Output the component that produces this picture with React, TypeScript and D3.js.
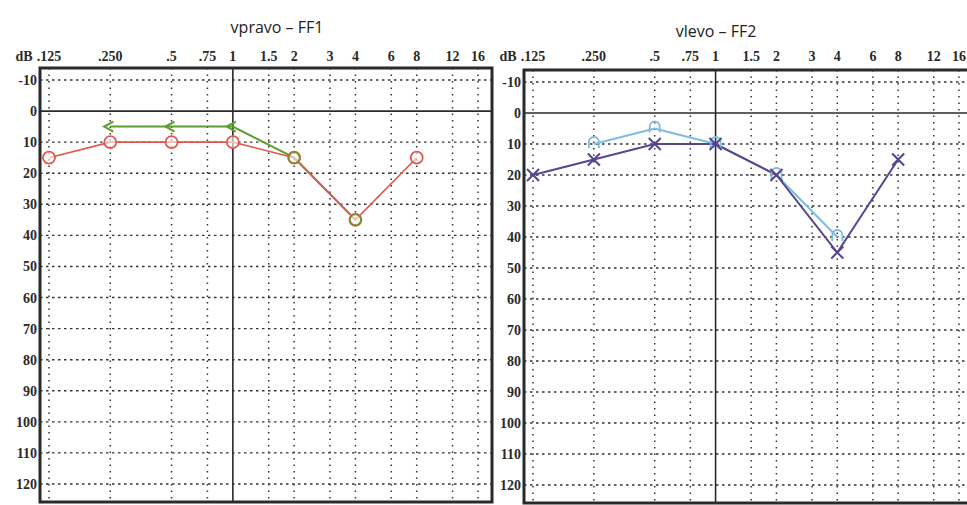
import * as d3 from 'd3';

// frequency axis (kHz) and hearing level axis (dB)
const freqTicks = [0.125, 0.25, 0.5, 0.75, 1, 1.5, 2, 3, 4, 6, 8, 12, 16];
const freqLabels = ['.125', '.250', '.5', '.75', '1', '1.5', '2', '3', '4', '6', '8', '12', '16'];
const dbTicks = [-10, 0, 10, 20, 30, 40, 50, 60, 70, 80, 90, 100, 110, 120];

// right ear (vpravo)
const rightAirFreq = [0.125, 0.25, 0.5, 1, 2, 4, 8];
const rightAirDb = [15, 10, 10, 10, 15, 35, 15];
const rightBoneFreq = [0.25, 0.5, 1, 2, 4];
const rightBoneDb = [5, 5, 5, 15, 35];

// left ear (vlevo)
const leftAirFreq = [0.125, 0.25, 0.5, 1, 2, 4, 8];
const leftAirDb = [20, 15, 10, 10, 20, 45, 15];
const leftBoneFreq = [0.25, 0.5, 1, 2, 4];
const leftBoneDb = [10, 5, 10, 20, 40];

const W = 967;
const H = 505;

type Pt = { f: number; db: number };
const zip = (f: number[], db: number[]): Pt[] => f.map((v, i) => ({ f: v, db: db[i] }));

interface PanelProps {
  title: string;
  titleX: number;
  titleY: number;
  box: { x0: number; x1: number; y0: number; y1: number };
  xRange: [number, number];
  yRange: [number, number];
  air: Pt[];
  bone: Pt[];
  side: 'right' | 'left';
}

function Panel({ title, titleX, titleY, box, xRange, yRange, air, bone, side }: PanelProps) {
  const x = d3.scaleLog().base(2).domain([0.125, 16]).range(xRange);
  const y = d3.scaleLinear().domain([-10, 120]).range(yRange);
  const line = d3
    .line<Pt>()
    .x((d) => x(d.f))
    .y((d) => y(d.db));

  const ink = '#2a2a2a';
  const serif = '"Liberation Serif", "DejaVu Serif", serif';
  const airColor = side === 'right' ? '#e2574c' : '#57458f';
  const boneColor = side === 'right' ? '#5e9e2e' : '#7dbbe3';

  return (
    <g>
      <text
        x={titleX}
        y={titleY}
        textAnchor="middle"
        fontFamily='"Open Sans", "Noto Sans", sans-serif'
        fontSize={16}
        fill="#222"
      >
        {title}
      </text>

      {/* top frequency labels */}
      <text x={box.x0 - 16} y={61} textAnchor="middle" fontFamily={serif} fontWeight="bold" fontSize={14} fill={ink}>
        dB
      </text>
      {freqTicks.map((f, i) => (
        <text
          key={'fl' + i}
          x={x(f)}
          y={61}
          textAnchor="middle"
          fontFamily={serif}
          fontWeight="bold"
          fontSize={14}
          fill={ink}
        >
          {freqLabels[i]}
        </text>
      ))}

      {/* dB labels */}
      {dbTicks.map((d) => (
        <text
          key={'dl' + d}
          x={box.x0 - 3}
          y={y(d) + 5}
          textAnchor="end"
          fontFamily={serif}
          fontWeight="bold"
          fontSize={14}
          fill={ink}
        >
          {d}
        </text>
      ))}

      {/* grid */}
      {dbTicks.map((d) =>
        d === 0 ? (
          <line key={'h' + d} x1={box.x0} x2={box.x1} y1={y(d)} y2={y(d)} stroke={ink} strokeWidth={1.6} />
        ) : (
          <line
            key={'h' + d}
            x1={box.x0}
            x2={box.x1}
            y1={y(d)}
            y2={y(d)}
            stroke="#333"
            strokeWidth={1.4}
            strokeDasharray="2.5,3.5"
          />
        )
      )}
      {freqTicks.map((f) =>
        f === 1 ? (
          <line key={'v' + f} x1={x(f)} x2={x(f)} y1={box.y0} y2={box.y1} stroke={ink} strokeWidth={1.6} />
        ) : (
          <line
            key={'v' + f}
            x1={x(f)}
            x2={x(f)}
            y1={box.y0}
            y2={box.y1}
            stroke="#333"
            strokeWidth={1.5}
            strokeDasharray="1.5,5"
          />
        )
      )}

      {/* frame */}
      <rect
        x={box.x0}
        y={box.y0}
        width={box.x1 - box.x0}
        height={box.y1 - box.y0}
        fill="none"
        stroke={ink}
        strokeWidth={3}
      />

      {/* bone conduction */}
      <path d={line(bone) || ''} fill="none" stroke={boneColor} strokeWidth={2} />
      {/* air conduction */}
      <path d={line(air) || ''} fill="none" stroke={airColor} strokeWidth={side === 'right' ? 1.6 : 2} />

      {side === 'right' &&
        air.map((d, i) => (
          <circle
            key={'ac' + i}
            cx={x(d.f)}
            cy={y(d.db)}
            r={6}
            fill="#fff"
            fillOpacity={0.6}
            stroke={airColor}
            strokeWidth={1.8}
          />
        ))}
      {side === 'right' &&
        bone.map((d, i) => {
          const cx = x(d.f);
          const cy = y(d.db);
          if (d.db <= 5) {
            return (
              <path
                key={'bc' + i}
                d={`M${cx + 3},${cy - 5} L${cx - 6},${cy} L${cx + 3},${cy + 5}`}
                fill="none"
                stroke={boneColor}
                strokeWidth={2.2}
              />
            );
          }
          return (
            <circle
              key={'bc' + i}
              cx={cx}
              cy={cy}
              r={5.5}
              fill="none"
              stroke="#7f8f2e"
              strokeWidth={1.8}
            />
          );
        })}

      {side === 'left' &&
        bone.map((d, i) => {
          const cx = x(d.f);
          const cy = y(d.db);
          return (
            <path
              key={'bl' + i}
              d={`M${cx - 5},${cy + 4} V${cy - 2} A5,5 0 0 1 ${cx + 5},${cy - 2} V${cy + 4}`}
              fill="none"
              stroke={boneColor}
              strokeWidth={1.8}
            />
          );
        })}
      {side === 'left' &&
        air.map((d, i) => {
          const cx = x(d.f);
          const cy = y(d.db);
          const s = 6;
          return (
            <path
              key={'al' + i}
              d={`M${cx - s},${cy - s} L${cx + s},${cy + s} M${cx - s},${cy + s} L${cx + s},${cy - s}`}
              stroke={airColor}
              strokeWidth={2}
            />
          );
        })}
    </g>
  );
}

export default function App() {
  return (
    <svg
      width={W}
      height={H}
      style={{ position: 'absolute', left: 0, top: 0, background: '#fff' }}
    >
      <rect width={W} height={H} fill="#fff" />
      <Panel
        title="vpravo – FF1"
        titleX={277}
        titleY={33}
        box={{ x0: 40, x1: 492, y0: 68, y1: 502 }}
        xRange={[49, 478]}
        yRange={[80, 484]}
        air={zip(rightAirFreq, rightAirDb)}
        bone={zip(rightBoneFreq, rightBoneDb)}
        side="right"
      />
      <Panel
        title="vlevo – FF2"
        titleX={716}
        titleY={37}
        box={{ x0: 524, x1: 974, y0: 70, y1: 503 }}
        xRange={[533, 959]}
        yRange={[82, 485]}
        air={zip(leftAirFreq, leftAirDb)}
        bone={zip(leftBoneFreq, leftBoneDb)}
        side="left"
      />
    </svg>
  );
}
